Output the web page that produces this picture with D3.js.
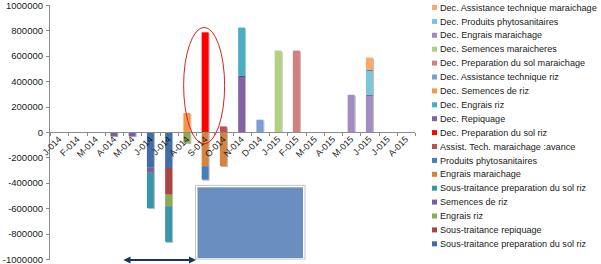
<!DOCTYPE html>
<html>
<head>
<meta charset="utf-8">
<script src="https://cdn.jsdelivr.net/npm/d3@7"></script>
<style>
  body { margin: 0; background: #fff; }
  svg { display: block; }
  .axis text { font-family: "Liberation Sans", Arial, sans-serif; fill: #1a1a1a; }
  .axis path, .axis line { stroke: #8c8c8c; shape-rendering: crispEdges; }
  .legend text { font-family: "Liberation Sans", Arial, sans-serif; font-size: 9.1px; fill: #1a1a1a; }
</style>
</head>
<body>
<div id="chart"></div>
<script>
// Month labels (several repeat, so the scale works on the index)
var months = ["J-014", "F-014", "M-014", "A-014", "M-014", "J-014", "J-014", "A-014", "S-014", "O-014",
              "N-014", "D-014", "J-015", "F-015", "M-015", "A-015", "M-015", "J-015", "J-015", "A-015"];
var yTicks = [-1000000, -800000, -600000, -400000, -200000, 0, 200000, 400000, 600000, 800000, 1000000];

// Series values, one per month (first series sits next to zero)
var stPrepSolRiz1     = [0, 0, 0, 0, 0, -280000, -283000, 0, 0, 0, 0, 0, 0, 0, 0, 0, 0, 0, 0, 0];
var stRepiquage       = [0, 0, 0, 0, 0, 0, -210000, 0, 0, 0, 0, 0, 0, 0, 0, 0, 0, 0, 0, 0];
var engraisRiz        = [0, 0, 0, 0, 0, 0, -92000, -86000, 0, 0, 0, 0, 0, 0, 0, 0, 0, 0, 0, 0];
var semencesRiz       = [0, 0, 0, -34000, -34000, -36000, 0, 0, 0, 0, 0, 0, 0, 0, 0, 0, 0, 0, 0, 0];
var stPrepSolRiz2     = [0, 0, 0, 0, 0, -283000, -280000, 0, 0, 0, 0, 0, 0, 0, 0, 0, 0, 0, 0, 0];
var engraisMar        = [0, 0, 0, 0, 0, 0, 0, 0, -270000, -268000, 0, 0, 0, 0, 0, 0, 0, 0, 0, 0];
var produitsPhyto     = [0, 0, 0, 0, 0, 0, 0, 0, -105000, 0, 0, 0, 0, 0, 0, 0, 0, 0, 0, 0];
var assistTechAvance  = [0, 0, 0, 0, 0, 0, 0, 0, 0, 44000, 0, 0, 0, 0, 0, 0, 0, 0, 0, 0];
var decPrepSolRiz     = [0, 0, 0, 0, 0, 0, 0, 0, 785000, 0, 0, 0, 0, 0, 0, 0, 0, 0, 0, 0];
var decRepiquage      = [0, 0, 0, 0, 0, 0, 0, 0, 0, 0, 442000, 0, 0, 0, 0, 0, 0, 0, 0, 0];
var decEngraisRiz     = [0, 0, 0, 0, 0, 0, 0, 0, 0, 0, 380000, 0, 0, 0, 0, 0, 0, 0, 0, 0];
var decSemencesRiz    = [0, 0, 0, 0, 0, 0, 0, 149000, 0, 0, 0, 0, 0, 0, 0, 0, 0, 0, 0, 0];
var decAssistTechRiz  = [0, 0, 0, 0, 0, 0, 0, 0, 0, 0, 0, 97000, 0, 0, 0, 0, 0, 0, 0, 0];
var decPrepSolMar     = [0, 0, 0, 0, 0, 0, 0, 0, 0, 0, 0, 0, 0, 641000, 0, 0, 0, 0, 0, 0];
var decSemencesMar    = [0, 0, 0, 0, 0, 0, 0, 0, 0, 0, 0, 0, 641000, 0, 0, 0, 0, 0, 0, 0];
var decEngraisMar     = [0, 0, 0, 0, 0, 0, 0, 0, 0, 0, 0, 0, 0, 0, 0, 0, 293000, 293000, 0, 0];
var decProduitsPhyto  = [0, 0, 0, 0, 0, 0, 0, 0, 0, 0, 0, 0, 0, 0, 0, 0, 0, 196000, 0, 0];
var decAssistTechMar  = [0, 0, 0, 0, 0, 0, 0, 0, 0, 0, 0, 0, 0, 0, 0, 0, 0, 97000, 0, 0];

var seriesNames = ["Sous-traitance preparation du sol riz", "Sous-traitance repiquage", "Engrais riz",
  "Semences de riz", "Sous-traitance preparation du sol riz", "Engrais maraichage", "Produits phytosanitaires",
  "Assist. Tech. maraichage  :avance", "Dec. Preparation du sol riz", "Dec. Repiquage", "Dec. Engrais riz",
  "Dec. Semences de riz", "Dec. Assistance technique riz", "Dec. Preparation du sol maraichage",
  "Dec. Semences maraicheres", "Dec. Engrais maraichage", "Dec. Produits phytosanitaires",
  "Dec. Assistance technique maraichage"];
var seriesValues = [stPrepSolRiz1, stRepiquage, engraisRiz, semencesRiz, stPrepSolRiz2, engraisMar,
  produitsPhyto, assistTechAvance, decPrepSolRiz, decRepiquage, decEngraisRiz, decSemencesRiz,
  decAssistTechRiz, decPrepSolMar, decSemencesMar, decEngraisMar, decProduitsPhyto, decAssistTechMar];

var colors = ["#3f6ea7", "#a94442", "#8cab4d", "#7a5f9e", "#3b95a9", "#d4843c", "#4a7cbb", "#c0504d",
  "#ff0000", "#8064a2", "#4bacc6", "#f79646", "#7c9ed4", "#d47f7d", "#b3cf80", "#a18dc2", "#7cc4d8", "#f9a96a"];

var w = 601, h = 264;
var margin = {left: 50, top: 5, bottom: 4};
var plotRight = 415;

var svg = d3.select("#chart").append("svg").attr("width", w).attr("height", h);

var defs = svg.append("defs");
defs.append("filter").attr("id", "shadow").attr("x", "-30%").attr("y", "-5%").attr("width", "160%").attr("height", "110%")
  .append("feDropShadow").attr("dx", 1).attr("dy", 1).attr("stdDeviation", 0.7)
  .attr("flood-color", "#000").attr("flood-opacity", 0.3);

var idx = d3.range(months.length);
var x = d3.scaleBand().domain(idx).range([margin.left, plotRight]).paddingInner(0.62).paddingOuter(0.31);
var y = d3.scaleLinear().domain([-1000000, 1000000]).range([h - margin.bottom - 1, margin.top]);

// table built from the arrays
var table = idx.map(function(i) {
  var row = {i: i};
  seriesValues.forEach(function(s, k) { row["s" + k] = s[i]; });
  return row;
});
var keys = seriesValues.map(function(s, k) { return "s" + k; });
var stacked = d3.stack().keys(keys).offset(d3.stackOffsetDiverging)(table);

// y axis
svg.append("g").attr("class", "axis y")
  .attr("transform", "translate(" + margin.left + ",0)")
  .call(d3.axisLeft(y).tickValues(yTicks).tickSize(4).tickPadding(3).tickFormat(function(d) { return String(d); }))
  .call(function(g) {
    g.selectAll("text").style("font-size", "9.5px");
    g.select(".domain").attr("d", "M-0.5," + y(1000000) + "V" + y(-1000000));
  });

// bars
var layers = svg.append("g").selectAll("g").data(stacked).enter().append("g")
  .attr("fill", function(d, k) { return colors[k]; });
layers.selectAll("rect")
  .data(function(d) { return d.filter(function(p) { return p[1] - p[0] !== 0; }); })
  .enter().append("rect")
  .attr("x", function(d) { return x(d.data.i); })
  .attr("width", x.bandwidth())
  .attr("y", function(d) { return y(Math.max(d[0], d[1])); })
  .attr("height", function(d) { return Math.abs(y(d[0]) - y(d[1])); })
  .attr("filter", "url(#shadow)");

// x axis along zero, ticks at the category boundaries
var y0 = y(0);
var xAxis = svg.append("g").attr("class", "axis x");
xAxis.append("line").attr("x1", margin.left).attr("x2", plotRight).attr("y1", Math.round(y0) + 0.5).attr("y2", Math.round(y0) + 0.5);
xAxis.selectAll("line.tick").data(d3.range(months.length + 1)).enter().append("line").attr("class", "tick")
  .attr("x1", function(i) { return Math.round(margin.left + i * x.step()) + 0.5; })
  .attr("x2", function(i) { return Math.round(margin.left + i * x.step()) + 0.5; })
  .attr("y1", Math.round(y0) + 0.5).attr("y2", Math.round(y0) + 4);
xAxis.selectAll("text").data(idx).enter().append("text")
  .attr("text-anchor", "end")
  .style("font-size", "9px")
  .attr("transform", function(i) {
    return "translate(" + (x(i) + x.bandwidth() / 2 + 3) + "," + (y0 + 8) + ") rotate(-45)";
  })
  .text(function(i) { return months[i]; });

// annotations
var sIdx = 8;
var cxS = x(sIdx) + x.bandwidth() / 2;
svg.append("ellipse")
  .attr("cx", cxS - 1).attr("cy", (y(800000) + y(-70000)) / 2)
  .attr("rx", 20.5).attr("ry", (y(-70000) - y(800000)) / 2 + 3)
  .attr("fill", "none").attr("stroke", "#e02020").attr("stroke-width", 1);

var boxX0 = margin.left + 8 * x.step() - 0.5, boxX1 = margin.left + 14 * x.step() - 0.5;
svg.append("rect").attr("x", boxX0).attr("y", y(-420000)).attr("width", boxX1 - boxX0).attr("height", y(-1000000) - y(-420000))
  .attr("fill", "#fff").attr("stroke", "#c4c4c4").attr("stroke-width", 1);
svg.append("rect").attr("x", boxX0 + 2).attr("y", y(-420000) + 2).attr("width", boxX1 - boxX0 - 4).attr("height", y(-1000000) - y(-420000) - 3)
  .attr("fill", "#6b8ec0");

var marker = function(id, path) {
  defs.append("marker").attr("id", id).attr("viewBox", "0 0 10 10").attr("refX", 5).attr("refY", 5)
    .attr("markerWidth", 4).attr("markerHeight", 4).attr("orient", "auto")
    .append("path").attr("d", path).attr("fill", "#17375e");
};
marker("arrowEnd", "M0,0L10,5L0,10z");
marker("arrowStart", "M10,0L0,5L10,10z");
svg.append("line")
  .attr("x1", x(5) - 20).attr("x2", boxX0 - 3)
  .attr("y1", y(-1000000) + 1).attr("y2", y(-1000000) + 1)
  .attr("stroke", "#17375e").attr("stroke-width", 1.8)
  .attr("marker-start", "url(#arrowStart)").attr("marker-end", "url(#arrowEnd)");

// legend, listed last series first
var legend = svg.append("g").attr("class", "legend").attr("transform", "translate(432,0)");
var order = d3.range(seriesNames.length).reverse();
var item = legend.selectAll("g").data(order).enter().append("g")
  .attr("transform", function(k, j) { return "translate(0," + (7.5 + j * 13.9) + ")"; });
item.append("rect").attr("x", 0).attr("y", -2.5).attr("width", 5).attr("height", 5)
  .attr("fill", function(k) { return colors[k]; });
item.append("text").attr("x", 8).attr("dy", "0.35em").text(function(k) { return seriesNames[k]; });
</script>
</body>
</html>
